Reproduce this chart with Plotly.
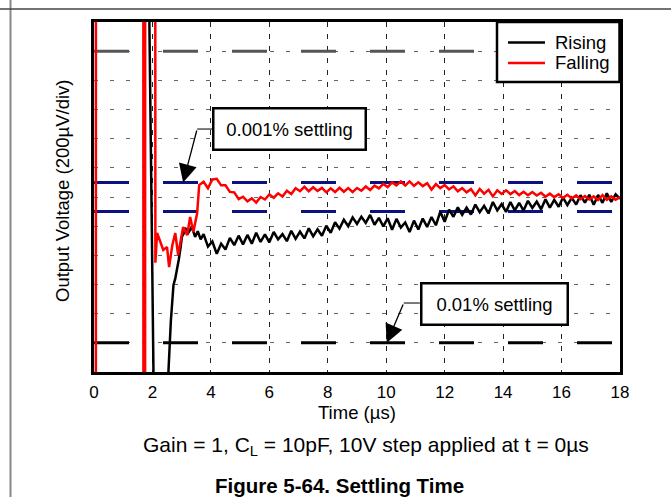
import plotly.graph_objects as go

# ---- data (time in µs, deviation from final value in µV; 200 µV per division) ----
x_ticks = [0, 2, 4, 6, 8, 10, 12, 14, 16, 18]
x_span = [0, 18]
y_span = [-1200, 1200]

# common sample times for the settled part of both traces
t_tail = [
    3.75, 3.90, 4.05, 4.20, 4.35, 4.50, 4.65, 4.80, 4.95, 5.10,
    5.25, 5.40, 5.55, 5.70, 5.85, 6.00, 6.15, 6.30, 6.45, 6.60,
    6.75, 6.90, 7.05, 7.20, 7.35, 7.50, 7.65, 7.80, 7.95, 8.10,
    8.25, 8.40, 8.55, 8.70, 8.85, 9.00, 9.15, 9.30, 9.45, 9.60,
    9.75, 9.90, 10.05, 10.20, 10.35, 10.50, 10.65, 10.80, 10.95, 11.10,
    11.25, 11.40, 11.55, 11.70, 11.85, 12.00, 12.15, 12.30, 12.45, 12.60,
    12.75, 12.90, 13.05, 13.20, 13.35, 13.50, 13.65, 13.80, 13.95, 14.10,
    14.25, 14.40, 14.55, 14.70, 14.85, 15.00, 15.15, 15.30, 15.45, 15.60,
    15.75, 15.90, 16.05, 16.20, 16.35, 16.50, 16.65, 16.80, 16.95, 17.10,
    17.25, 17.40, 17.55, 17.70, 17.85, 18.00,
]

# rising step (black): slews through the window, then settles from below
rising_t_head = [1.79, 2.14, 2.45, 2.55, 2.63, 2.72, 2.78, 2.84, 2.90, 2.95,
                 3.01, 3.07, 3.12, 3.22, 3.35, 3.46, 3.55, 3.65]
rising_v_head = [3000, -3000, -3000, -1186, -850, -603, -560, -500, -430, -363,
                 -272, -250, -212, -247, -206, -274, -235, -290]
rising_v_tail = [
    -255, -340, -305, -390, -320, -360, -280, -330, -265, -325,
    -260, -320, -245, -308, -257, -311, -240, -290, -255, -303,
    -232, -287, -238, -284, -215, -270, -221, -266, -197, -245,
    -173, -217, -156, -200, -140, -185, -135, -178, -123, -190,
    -143, -202, -146, -225, -150, -210, -175, -240, -162, -223,
    -148, -205, -137, -194, -101, -170, -87, -136, -71, -122,
    -73, -120, -52, -104, -61, -113, -34, -91, -49, -102,
    -35, -92, -40, -93, -26, -75, -32, -84, -16, -73,
    -20, -67, -4, -55, -6, -52, 12, -39, 15, -53,
    14, -40, 26, -33, 18, -12,
]

# falling step (red): off-scale, rings into the window, overshoots, settles from above
falling_t_head = [0.06, 0.07, 1.66, 1.72, 1.78, 2.05, 2.10, 2.16, 2.26, 2.37,
                  2.50, 2.57, 2.68, 2.78, 2.88, 2.97, 3.05, 3.19, 3.29, 3.40,
                  3.53, 3.60, 3.67]
falling_v_head = [-30000, 30000, 30000, -30000, 30000, 30000, -450, -247, -309, -363,
                  -343, -480, -330, -247, -398, -300, -206, -261, -137, -240,
                  -110, 82, 96]
falling_v_tail = [
    105, 60, 120, 125, 80, 80, 35, 32, -15, 2,
    -30, -10, -38, 0, -17, 18, -5, 25, 3, 43,
    20, 60, 40, 70, 40, 67, 42, 62, 32, 59,
    34, 63, 36, 61, 34, 62, 43, 72, 48, 78,
    59, 90, 68, 100, 80, 107, 79, 107, 77, 101,
    75, 95, 51, 88, 61, 82, 52, 73, 39, 61,
    32, 54, 11, 55, 23, 49, 4, 46, 21, 46,
    20, 41, 13, 36, 12, 34, 10, 29, 2, 23,
    -1, 19, -6, 15, -10, 11, -15, 6, -17, 4,
    -21, 13, -19, 4, -18, 0,
]

# settling bands: 0.01 % of 10 V = ±1 mV, 0.001 % = ±100 µV
band_01 = [1000, -1000]
band_001 = [100, -100]

series_names = ["Rising", "Falling"]
series_colors = ["black", "#ff0000"]

# ---- layout geometry (pixels) ----
W, H = 671, 497
ML, MR, MT, MB = 94, 51, 22, 125
PW, PH = W - ML - MR, H - MT - MB


def px_x(px):
    return (px - ML) / PW


def px_y(py):
    return (H - MB - py) / PH


FONT = "Liberation Sans, Arial, sans-serif"

fig = go.Figure()

# settling lines (long dashes)
fig.add_trace(go.Scatter(x=x_span, y=[band_01[0]] * 2, mode="lines", showlegend=False,
                         line=dict(color="#555555", width=3, dash="35px,34px"), hoverinfo="skip"))
fig.add_trace(go.Scatter(x=x_span, y=[band_01[1]] * 2, mode="lines", showlegend=False,
                         line=dict(color="black", width=3, dash="35px,34px"), hoverinfo="skip"))
for v in band_001:
    fig.add_trace(go.Scatter(x=x_span, y=[v, v], mode="lines", showlegend=False,
                             line=dict(color="#0b1280", width=3, dash="35px,34px"), hoverinfo="skip"))

fig.add_trace(go.Scatter(
    x=rising_t_head + t_tail, y=rising_v_head + rising_v_tail,
    mode="lines", name=series_names[0], showlegend=False,
    line=dict(color=series_colors[0], width=2.5),
))
fig.add_trace(go.Scatter(
    x=falling_t_head + t_tail, y=falling_v_head + falling_v_tail,
    mode="lines", name=series_names[1], showlegend=False,
    line=dict(color=series_colors[1], width=2.5),
))

fig.update_xaxes(
    range=x_span, tickvals=x_ticks, ticks="", ticklabelstandoff=3,
    tickfont=dict(size=17, color="black"),
    showgrid=True, gridcolor="#222222", gridwidth=1.2, griddash="5px,7px",
    showline=True, linecolor="black", linewidth=3, mirror=True, zeroline=False,
)
fig.update_yaxes(
    range=y_span, dtick=200, tick0=0, showticklabels=False, ticks="",
    showgrid=True, gridcolor="#666666", gridwidth=1.2, griddash="4px,12px",
    showline=True, linecolor="black", linewidth=3, mirror=True, zeroline=False,
)

box = dict(bgcolor="white", bordercolor="black", borderwidth=2.5, borderpad=2,
           font=dict(size=18.5, color="black"), showarrow=False, xref="x", yref="y",
           xanchor="center", yanchor="middle")
paper_txt = dict(xref="paper", yref="paper", showarrow=False, yanchor="middle")
annotations = [
    dict(text="0.001% settling", x=6.69, y=463, width=146, height=35, **box),
    dict(text="0.01% settling", x=13.69, y=-737, width=140, height=35, **box),
    # arrows with kinked leaders
    dict(text="", x=3.05, y=100, ax=3.53, ay=466, xref="x", yref="y", axref="x", ayref="y",
         showarrow=True, arrowhead=2, arrowsize=2.8, arrowwidth=1.3, arrowcolor="black"),
    dict(text="", x=10.02, y=-1000, ax=10.6, ay=-727, xref="x", yref="y", axref="x", ayref="y",
         showarrow=True, arrowhead=2, arrowsize=2.8, arrowwidth=1.3, arrowcolor="black"),
    # axis titles
    dict(text="Output Voltage (200µV/div)", x=px_x(62), y=px_y(191), xanchor="center",
         textangle=-90, font=dict(size=18.5, color="black"), **paper_txt),
    dict(text="Time (µs)", x=0.5, y=px_y(412), xanchor="center",
         font=dict(size=18.5, color="black"), **paper_txt),
    # caption and figure title
    dict(text="Gain = 1, C<sub>L</sub> = 10pF, 10V step applied at t = 0µs",
         x=px_x(366), y=px_y(446), xanchor="center",
         font=dict(size=21, color="black"), **paper_txt),
    dict(text="<b>Figure 5-64. Settling Time</b>", x=px_x(339), y=px_y(485), xanchor="center",
         font=dict(size=20.5, color="black"), **paper_txt),
]

shapes = [
    # leader stubs between arrow tails and boxes
    dict(type="line", xref="x", yref="y", x0=3.53, y0=466, x1=4.05, y1=466,
         line=dict(color="#333333", width=1.3)),
    dict(type="line", xref="x", yref="y", x0=10.6, y0=-727, x1=11.15, y1=-727,
         line=dict(color="#333333", width=1.3)),
    # page rules around the figure
    dict(type="line", xref="paper", yref="paper", x0=px_x(10.5), x1=px_x(10.5),
         y0=px_y(H), y1=px_y(0), line=dict(color="#888888", width=2)),
    dict(type="line", xref="paper", yref="paper", x0=px_x(0), x1=px_x(W),
         y0=px_y(9), y1=px_y(9), line=dict(color="#444444", width=1.5)),
    # legend frame
    dict(type="rect", xref="paper", yref="paper", x0=px_x(497), x1=px_x(619.5),
         y0=px_y(82), y1=px_y(22), fillcolor="white", line=dict(color="black", width=2.5)),
]

# legend entries (line sample + label)
for i, (name, color) in enumerate(zip(series_names, series_colors)):
    row_y = px_y(42.5 + 20.5 * i)
    shapes.append(dict(type="line", xref="paper", yref="paper",
                       x0=px_x(508), x1=px_x(545), y0=row_y, y1=row_y,
                       line=dict(color=color, width=2.5)))
    annotations.append(dict(text=name, x=px_x(553), y=row_y, xanchor="left",
                            font=dict(size=18.5, color="black"), **paper_txt))

fig.update_layout(
    width=W, height=H,
    margin=dict(l=ML, r=MR, t=MT, b=MB, autoexpand=False),
    plot_bgcolor="white", paper_bgcolor="white",
    font=dict(family=FONT, color="black"),
    showlegend=False,
    annotations=annotations,
    shapes=shapes,
)

fig.write_html("out.html", config={"displayModeBar": False},
               post_script="document.body.style.margin='0px';")
